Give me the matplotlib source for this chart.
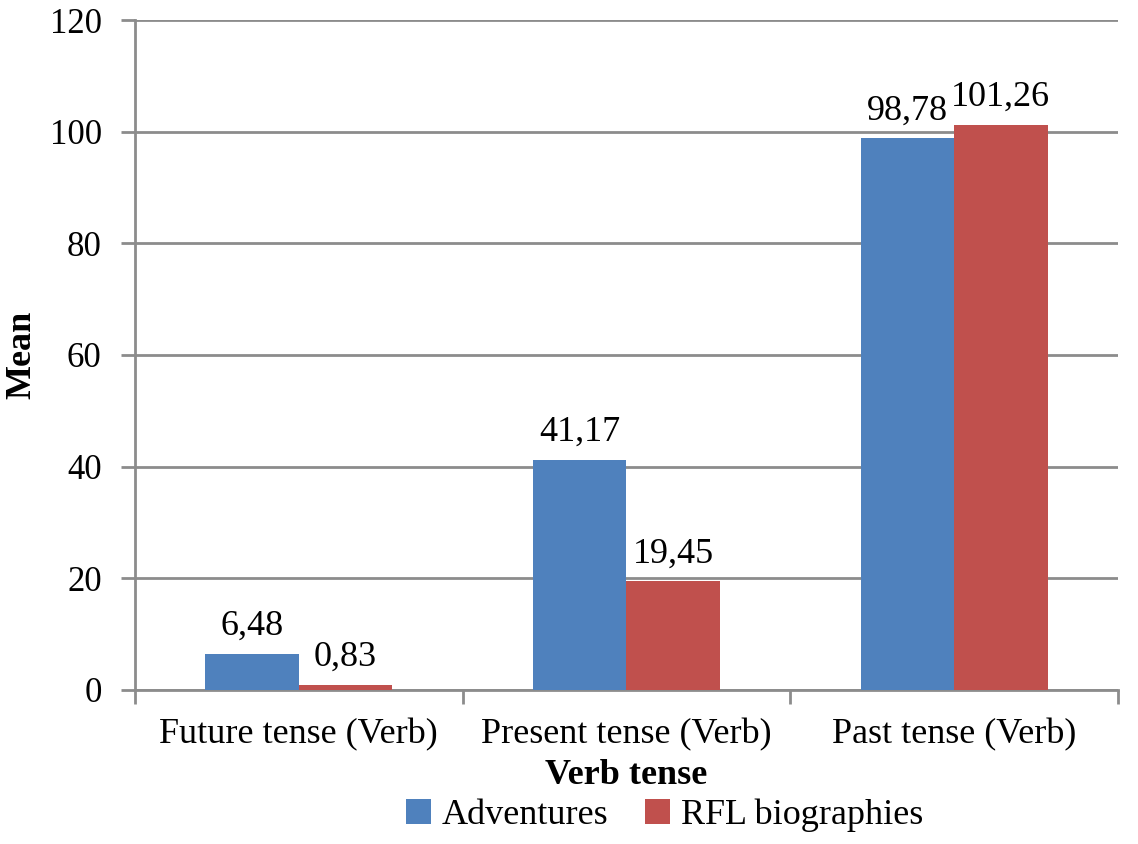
import numpy as np
import matplotlib.pyplot as plt

# Data
categories = ['Future tense (Verb)', 'Present tense (Verb)', 'Past tense (Verb)']
adventures = [6.48, 41.17, 98.78]
rfl_bio = [0.83, 19.45, 101.26]
adv_labels = ['6,48', '41,17', '98,78']
rfl_labels = ['0,83', '19,45', '101,26']

plt.rcParams['font.family'] = ['Liberation Serif', 'DejaVu Serif']
fs = 26

fig = plt.figure(figsize=(11.38, 8.44), dpi=100)
ax = fig.add_axes([0.1186, 0.1825, 0.8638, 0.7938])

x = np.arange(len(categories))
w = 0.285
b1 = ax.bar(x - w / 2, adventures, w, color='#4F81BD', label='Adventures', zorder=3)
b2 = ax.bar(x + w / 2, rfl_bio, w, color='#C0504D', label='RFL biographies', zorder=3)

ax.bar_label(b1, labels=adv_labels, padding=8, fontsize=fs)
ax.bar_label(b2, labels=rfl_labels, padding=8, fontsize=fs)

ax.set_xlim(-0.5, 2.5)
ax.set_ylim(0, 120)
ax.set_yticks(range(0, 121, 20))
ax.yaxis.grid(True, color='#8c8c8c', linewidth=2, zorder=0)

# category labels centered, ticks at the boundaries
ax.set_xticks(x)
ax.set_xticklabels(categories, fontsize=fs)
ax.set_xticks([-0.5, 0.5, 1.5, 2.5], minor=True)
ax.tick_params(axis='x', which='major', length=0, pad=20)
ax.tick_params(axis='x', which='minor', length=10, width=2, color='#8c8c8c')
ax.tick_params(axis='y', length=10, width=2, color='#8c8c8c', labelsize=25, pad=14)

for s in ['top', 'right']:
    ax.spines[s].set_visible(False)
ax.spines['left'].set_color('#8c8c8c')
ax.spines['left'].set_linewidth(2)
ax.spines['bottom'].set_color('#8c8c8c')
ax.spines['bottom'].set_linewidth(2)

ax.set_xlabel('Verb tense', fontsize=fs, fontweight='bold', labelpad=6)
ax.set_ylabel('Mean', fontsize=fs, fontweight='bold', labelpad=8)

fig.legend(handles=[b1, b2], loc='center', bbox_to_anchor=(0.584, 0.034), ncol=2,
           frameon=False, fontsize=fs, handlelength=0.7, handleheight=0.7,
           handletextpad=0.3, columnspacing=1.0, borderpad=0.1)

fig.savefig('out.png', dpi=100)
